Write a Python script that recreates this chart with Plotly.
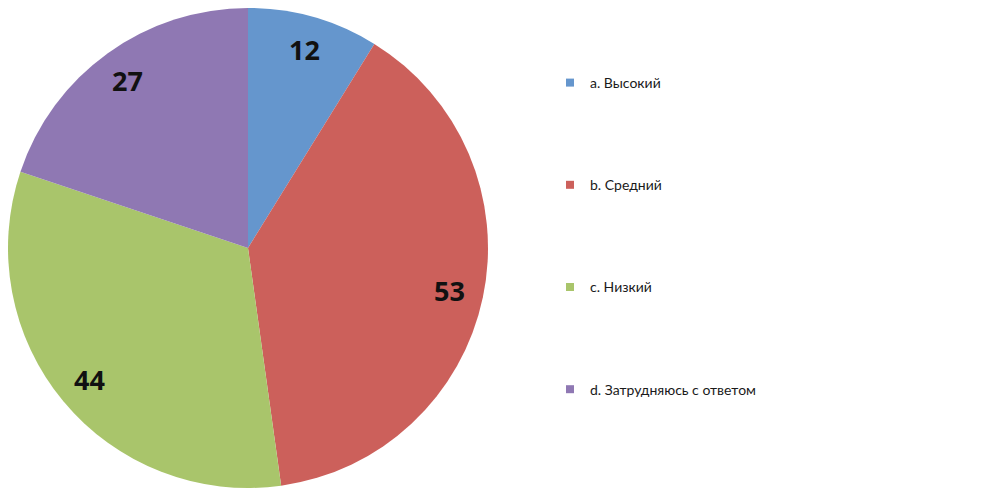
import math
import plotly.graph_objects as go

labels = ["a. Высокий", "b. Средний", "c. Низкий", "d. Затрудняюсь с ответом"]
values = [12, 53, 44, 27]
colors = ["#6596CD", "#CC605B", "#A9C56B", "#8F78B3"]

W, H = 1000, 497
cx, cy, R = 240, 240, 240  # pie center/radius in px (layout coords)

fig = go.Figure()
fig.add_trace(go.Pie(
    labels=labels, values=values, sort=False, direction="clockwise", rotation=0,
    marker=dict(colors=colors, line=dict(width=0)),
    textinfo="none", hoverinfo="label+value", showlegend=False,
    domain=dict(x=[max(0, (cx - R) / W), (cx + R) / W],
                y=[(H - cy - R) / H, min(1, (H - cy + R) / H)]),
))

# value labels placed at mid-angle of each slice
total = sum(values)
cum = 0
for v in values:
    mid = (cum + v / 2) / total * 2 * math.pi
    cum += v
    r = 0.86 * R
    px = cx + r * math.sin(mid)
    py = cy - r * math.cos(mid)
    fig.add_annotation(x=px / W, y=1 - py / H, xref="paper", yref="paper",
                       xanchor="center", yanchor="middle",
                       text=f"<b>{v}</b>", showarrow=False,
                       font=dict(size=27, color="#111111", family="Open Sans, sans-serif"))

# legend entries
for lab, col in zip(labels, colors):
    fig.add_trace(go.Scatter(x=[None], y=[None], mode="markers", name=lab,
                             legendgroup=lab,
                             marker=dict(symbol="square", size=8, color=col)))

fig.update_layout(
    width=W, height=H,
    margin=dict(l=0, r=0, t=0, b=0),
    paper_bgcolor="white", plot_bgcolor="white",
    xaxis=dict(visible=False), yaxis=dict(visible=False),
    legend=dict(x=0.542, y=1 - 59 / H, xanchor="left", yanchor="top",
                tracegroupgap=81, itemwidth=30,
                font=dict(size=14, color="#1a1a1a", family="Lato, Open Sans, sans-serif")),
)

fig.write_html("out.html")
